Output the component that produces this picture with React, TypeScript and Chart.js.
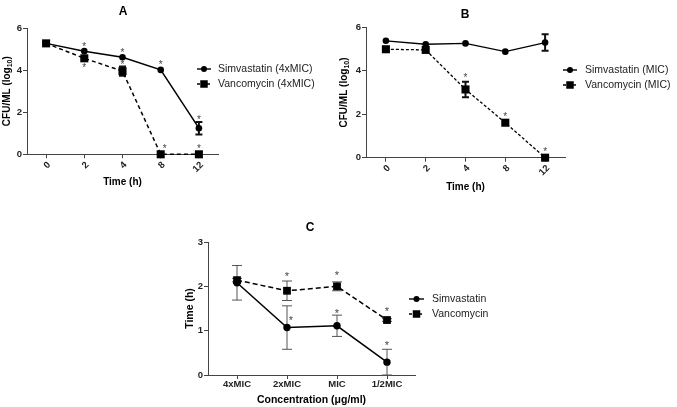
import React, { useEffect, useRef } from 'react';
import { Chart, registerables } from 'chart.js';

Chart.register(...registerables);

const FONT = '"Liberation Sans", Arial, Helvetica, sans-serif';
const W = 677;
const H = 407;

// ---------- Data ----------
// Panel A (4xMIC)
const timeLabels = ['0', '2', '4', '8', '12'];
const simA = [5.27, 4.9, 4.61, 4.01, 1.24];
const simAErr = [0, 0, 0, 0, 0.3];
const simAStars = [null, 5.24, 4.96, 4.35, 1.75];
const vanA = [5.27, 4.56, 3.95, 0, 0];
const vanAErr = [0, 0, 0.22, 0, 0];
const vanAStars = [null, 4.25, 4.35, 0.36, 0.36];
const vanAStarShift = [0, 0, 0, 1, 0];

// Panel B (MIC)
const simB = [5.38, 5.22, 5.26, 4.88, 5.3];
const simBErr = [0, 0, 0, 0, 0.38];
const simBStars = [null, null, null, null, null];
const vanB = [4.99, 4.96, 3.14, 1.61, 0];
const vanBErr = [0, 0, 0.36, 0, 0];
const vanBStars = [null, null, 3.8, 2.01, 0.4];

// Panel C (time to kill)
const concLabels = ['4xMIC', '2xMIC', 'MIC', '1/2MIC'];
const simC = [2.08, 1.07, 1.11, 0.29];
const simCErr = [0.39, 0.49, 0.24, 0.29];
const simCStars = [null, 1.3, 1.45, 0.73];
const simCStarShift = [0, 1, 0, 0];
const vanC = [2.14, 1.9, 2.0, 1.24];
const vanCErr = [0.04, 0.22, 0.1, 0.03];
const vanCStars = [null, 2.29, 2.31, 1.49];

const zeros = (n: number) => new Array(n).fill(0);

type Series = {
  label: string;
  values: number[];
  err: number[];
  stars: (number | null)[];
  starShift: number[];
  marker: 'circle' | 'rect';
  dashed: boolean;
};

type Panel = {
  title: string;
  titlePos: [number, number];
  titleSize: number;
  area: { left: number; right: number; top: number; bottom: number };
  yTitle: string;
  yTitleSub?: string;
  xTitle: string;
  yTitleX: number;
  xTitleY: number;
  axisTitleSize: number;
  tickSize: number;
  labels: string[];
  xType: 'category' | 'linear';
  xMin?: number;
  xMax?: number;
  rotate: number;
  yMax: number;
  yStep: number;
  series: Series[];
  legend: { x0: number; x1: number; mx: number; tx: number; y: number; dy: number; size: number };
  circleR: number;
  rectR: number;
  lineWidth: number;
  dash: number[];
  errColor: string;
  errWidth: number;
  capHalf: number;
  starSize: number;
};

const panels: Panel[] = [
  {
    title: 'A',
    titlePos: [123, 12],
    titleSize: 12,
    area: { left: 27, right: 218, top: 28, bottom: 154.3 },
    yTitle: 'CFU/ML (log',
    yTitleSub: '10',
    xTitle: 'Time (h)',
    yTitleX: 7.5,
    xTitleY: 182.5,
    axisTitleSize: 10,
    tickSize: 9.5,
    labels: timeLabels,
    xType: 'category',
    rotate: 45,
    yMax: 6,
    yStep: 2,
    series: [
      { label: 'Simvastatin (4xMIC)', values: simA, err: simAErr, stars: simAStars, starShift: zeros(5), marker: 'circle', dashed: false },
      { label: 'Vancomycin (4xMIC)', values: vanA, err: vanAErr, stars: vanAStars, starShift: vanAStarShift, marker: 'rect', dashed: true },
    ],
    legend: { x0: 197, x1: 211, mx: 204, tx: 218, y: 69, dy: 15, size: 10.5 },
    circleR: 3.3,
    rectR: 5.7,
    lineWidth: 1.5,
    dash: [4, 3],
    errColor: '#111',
    errWidth: 2,
    capHalf: 3.5,
    starSize: 10,
  },
  {
    title: 'B',
    titlePos: [465, 15],
    titleSize: 12,
    area: { left: 366, right: 565, top: 27.3, bottom: 157.7 },
    yTitle: 'CFU/ML (log',
    yTitleSub: '10',
    xTitle: 'Time (h)',
    yTitleX: 344,
    xTitleY: 187,
    axisTitleSize: 10,
    tickSize: 9.5,
    labels: timeLabels,
    xType: 'category',
    rotate: 45,
    yMax: 6,
    yStep: 2,
    series: [
      { label: 'Simvastatin (MIC)', values: simB, err: simBErr, stars: simBStars, starShift: zeros(5), marker: 'circle', dashed: false },
      { label: 'Vancomycin (MIC)', values: vanB, err: vanBErr, stars: vanBStars, starShift: zeros(5), marker: 'rect', dashed: true },
    ],
    legend: { x0: 563, x1: 577, mx: 570, tx: 585, y: 70, dy: 15, size: 10.5 },
    circleR: 3.3,
    rectR: 5.7,
    lineWidth: 1.3,
    dash: [3, 2],
    errColor: '#111',
    errWidth: 2,
    capHalf: 3.5,
    starSize: 10,
  },
  {
    title: 'C',
    titlePos: [310, 228],
    titleSize: 12,
    area: { left: 208, right: 415, top: 242, bottom: 375 },
    yTitle: 'Time (h)',
    xTitle: 'Concentration (\u03bcg/ml)',
    yTitleX: 190,
    xTitleY: 400.5,
    axisTitleSize: 10.5,
    tickSize: 9.5,
    labels: concLabels,
    xType: 'linear',
    xMin: -0.58,
    xMax: 3.56,
    rotate: 0,
    yMax: 3,
    yStep: 1,
    series: [
      { label: 'Simvastatin', values: simC, err: simCErr, stars: simCStars, starShift: simCStarShift, marker: 'circle', dashed: false },
      { label: 'Vancomycin', values: vanC, err: vanCErr, stars: vanCStars, starShift: zeros(4), marker: 'rect', dashed: true },
    ],
    legend: { x0: 409, x1: 424, mx: 416.5, tx: 432, y: 299, dy: 15, size: 10.5 },
    circleR: 3.7,
    rectR: 5.5,
    lineWidth: 1.5,
    dash: [5, 3],
    errColor: '#555',
    errWidth: 1,
    capHalf: 5,
    starSize: 11,
  },
];

const AXIS = '#444';

function drawMarker(ctx: CanvasRenderingContext2D, kind: string, x: number, y: number, r: number) {
  ctx.beginPath();
  if (kind === 'circle') {
    ctx.arc(x, y, r, 0, Math.PI * 2);
  } else {
    const s = Math.SQRT1_2 * r;
    ctx.rect(x - s, y - s, 2 * s, 2 * s);
  }
  ctx.fill();
}

function makeChart(canvas: HTMLCanvasElement, p: Panel) {
  const lh = p.axisTitleSize * 1.2;
  const padLeft = p.yTitleX - lh / 2;
  const yWidth = p.area.left - padLeft;
  const xBottom = p.xTitleY + lh / 2;
  const xHeight = xBottom - p.area.bottom;

  const datasets = p.series.map((s) => ({
    label: s.label,
    data: p.xType === 'linear' ? s.values.map((v, i) => ({ x: i, y: v })) : s.values,
    borderColor: '#000',
    backgroundColor: '#000',
    borderWidth: p.lineWidth,
    borderDash: s.dashed ? p.dash : [],
    pointStyle: s.marker,
    pointRadius: s.marker === 'circle' ? p.circleR : p.rectR,
    pointBorderWidth: 0,
    pointBackgroundColor: '#000',
    tension: 0,
    fill: false,
    clip: false as any,
  }));

  const deco = {
    id: 'deco' + p.title,
    beforeDatasetsDraw(chart: any) {
      const ctx = chart.ctx as CanvasRenderingContext2D;
      const xs = chart.scales.x;
      const ys = chart.scales.y;
      ctx.save();
      ctx.strokeStyle = p.errColor;
      ctx.lineWidth = p.errWidth;
      p.series.forEach((s) => {
        s.values.forEach((v, i) => {
          const e = s.err[i];
          if (!e) return;
          const x = xs.getPixelForValue(i);
          const y1 = ys.getPixelForValue(v + e);
          const y2 = ys.getPixelForValue(v - e);
          ctx.beginPath();
          ctx.moveTo(x, y1);
          ctx.lineTo(x, y2);
          ctx.moveTo(x - p.capHalf, y1);
          ctx.lineTo(x + p.capHalf, y1);
          ctx.moveTo(x - p.capHalf, y2);
          ctx.lineTo(x + p.capHalf, y2);
          ctx.stroke();
        });
      });
      ctx.restore();
    },
    afterDatasetsDraw(chart: any) {
      const ctx = chart.ctx as CanvasRenderingContext2D;
      const xs = chart.scales.x;
      const ys = chart.scales.y;
      const area = chart.chartArea;
      ctx.save();
      // asterisks
      ctx.fillStyle = '#444';
      ctx.font = `${p.starSize}px ${FONT}`;
      ctx.textAlign = 'center';
      ctx.textBaseline = 'alphabetic';
      p.series.forEach((s) => {
        s.stars.forEach((sv, i) => {
          if (sv === null || sv === undefined) return;
          const x = xs.getPixelForValue(i) + (s.starShift[i] ? 4 : 0);
          const y = ys.getPixelForValue(sv);
          ctx.fillText('*', x, y + p.starSize * 0.57);
        });
      });
      // y-axis title with subscript
      if (p.yTitleSub) {
        const mainFont = `bold ${p.axisTitleSize}px ${FONT}`;
        const subSize = p.axisTitleSize * 0.7;
        const subFont = `bold ${subSize}px ${FONT}`;
        ctx.font = mainFont;
        const w1 = ctx.measureText(p.yTitle).width;
        const w3 = ctx.measureText(')').width;
        ctx.font = subFont;
        const w2 = ctx.measureText(p.yTitleSub).width;
        const total = w1 + w2 + w3;
        ctx.translate(p.yTitleX, (area.top + area.bottom) / 2);
        ctx.rotate(-Math.PI / 2);
        ctx.fillStyle = '#000';
        ctx.textAlign = 'left';
        ctx.textBaseline = 'middle';
        let x = -total / 2;
        ctx.font = mainFont;
        ctx.fillText(p.yTitle, x, 0);
        x += w1;
        ctx.font = subFont;
        ctx.fillText(p.yTitleSub, x, p.axisTitleSize * 0.28);
        x += w2;
        ctx.font = mainFont;
        ctx.fillText(')', x, 0);
        ctx.setTransform(1, 0, 0, 1, 0, 0);
      }
      // panel title
      ctx.fillStyle = '#000';
      ctx.font = `bold ${p.titleSize}px ${FONT}`;
      ctx.textAlign = 'center';
      ctx.textBaseline = 'middle';
      ctx.fillText(p.title, p.titlePos[0], p.titlePos[1]);
      // legend
      const L = p.legend;
      p.series.forEach((s, k) => {
        const y = L.y + k * L.dy;
        ctx.strokeStyle = '#000';
        ctx.lineWidth = 1.4;
        ctx.setLineDash(s.dashed ? [3, 2] : []);
        ctx.beginPath();
        ctx.moveTo(L.x0, y);
        ctx.lineTo(L.x1, y);
        ctx.stroke();
        ctx.setLineDash([]);
        ctx.fillStyle = '#000';
        drawMarker(ctx, s.marker, L.mx, y, s.marker === 'circle' ? 3 : 5.3);
        ctx.fillStyle = '#222';
        ctx.font = `${L.size}px ${FONT}`;
        ctx.textAlign = 'left';
        ctx.textBaseline = 'middle';
        ctx.fillText(s.label, L.tx, y);
      });
      ctx.restore();
    },
  };

  const xScale: any = {
    type: p.xType,
    offset: p.xType === 'category',
    ticks: {
      font: { family: FONT, size: p.tickSize, weight: 'bold' },
      color: '#222',
      maxRotation: p.rotate,
      minRotation: p.rotate,
      autoSkip: false,
      padding: p.rotate ? 1 : 0,
      labelOffset: p.rotate ? 3 : 0,
      callback: (_v: any, i: number) => p.labels[i],
    },
    grid: { display: true, drawOnChartArea: false, drawTicks: true, tickLength: 4, color: AXIS, lineWidth: 1 },
    border: { display: true, color: AXIS, width: 1 },
    title: {
      display: true,
      text: p.xTitle,
      color: '#000',
      font: { family: FONT, size: p.axisTitleSize, weight: 'bold' },
      padding: 0,
    },
    afterFit: (s: any) => {
      s.height = xHeight;
    },
  };
  if (p.xType === 'linear') {
    xScale.min = p.xMin;
    xScale.max = p.xMax;
    xScale.afterBuildTicks = (s: any) => {
      s.ticks = p.labels.map((_l, i) => ({ value: i }));
    };
  } else {
    xScale.labels = p.labels;
  }

  return new Chart(canvas, {
    type: 'line',
    data: { labels: p.xType === 'category' ? p.labels : undefined, datasets: datasets as any },
    options: {
      responsive: false,
      animation: false,
      devicePixelRatio: 1,
      layout: {
        padding: { left: padLeft, right: W - p.area.right, top: p.area.top, bottom: H - xBottom },
      },
      plugins: {
        legend: { display: false },
        tooltip: { enabled: false },
        title: { display: false },
      },
      scales: {
        x: xScale,
        y: {
          type: 'linear',
          min: 0,
          max: p.yMax,
          ticks: {
            stepSize: p.yStep,
            font: { family: FONT, size: p.tickSize, weight: 'bold' },
            color: '#222',
            padding: 1,
          },
          grid: { display: true, drawOnChartArea: false, drawTicks: true, tickLength: 4, color: AXIS, lineWidth: 1 },
          border: { display: true, color: AXIS, width: 1 },
          title: {
            display: !p.yTitleSub,
            text: p.yTitle,
            color: '#000',
            font: { family: FONT, size: p.axisTitleSize, weight: 'bold' },
            padding: 0,
          },
          afterFit: (s: any) => {
            s.width = yWidth;
          },
        } as any,
      },
    },
    plugins: [deco],
  });
}

export default function App() {
  const refs = [useRef<HTMLCanvasElement>(null), useRef<HTMLCanvasElement>(null), useRef<HTMLCanvasElement>(null)];
  useEffect(() => {
    const charts = panels.map((p, i) => makeChart(refs[i].current as HTMLCanvasElement, p));
    return () => charts.forEach((c) => c.destroy());
  }, []);
  return (
    <div style={{ position: 'fixed', left: 0, top: 0, width: W, height: H, background: '#fff', overflow: 'hidden' }}>
      {refs.map((r, i) => (
        <canvas
          key={i}
          ref={r}
          width={W}
          height={H}
          style={{ position: 'absolute', left: 0, top: 0, width: W, height: H }}
        />
      ))}
    </div>
  );
}
